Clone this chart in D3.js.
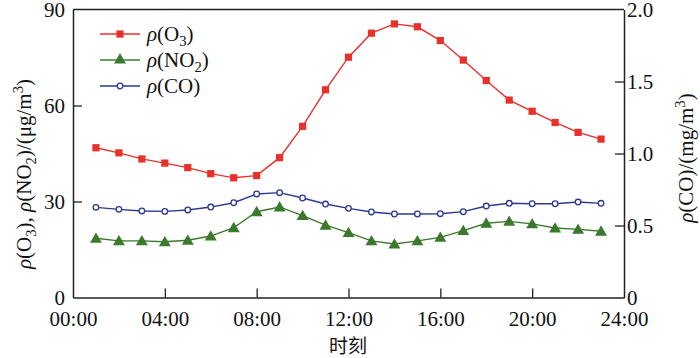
<!DOCTYPE html>
<html>
<head>
<meta charset="utf-8">
<script src="https://cdn.jsdelivr.net/npm/d3@7"></script>
</head>
<body style="margin:0; background:#fff">
<div id="chart"></div>
<script>
'use strict';

// hours of the day
var hours = [1, 2, 3, 4, 5, 6, 7, 8, 9, 10, 11, 12, 13, 14, 15, 16, 17, 18, 19, 20, 21, 22, 23];
// O3 and NO2 on left axis (ug/m3), CO on right axis (mg/m3)
var o3  = [46.8, 45.2, 43.3, 42.0, 40.6, 38.7, 37.4, 38.1, 43.7, 53.5, 64.9, 75.1, 82.6, 85.5, 84.6, 80.3, 74.2, 67.8, 61.7, 58.2, 54.7, 51.6, 49.5];
var no2 = [18.5, 17.7, 17.7, 17.4, 17.9, 19.2, 21.8, 26.8, 28.3, 25.6, 22.6, 20.3, 17.7, 16.7, 17.7, 18.8, 20.9, 23.2, 23.8, 23.0, 21.7, 21.3, 20.7];
var co  = [0.626, 0.612, 0.601, 0.598, 0.608, 0.628, 0.658, 0.719, 0.728, 0.691, 0.649, 0.619, 0.594, 0.580, 0.580, 0.582, 0.596, 0.635, 0.654, 0.651, 0.651, 0.663, 0.654];

var xTicks = [0, 4, 8, 12, 16, 20, 24];
var xTickLabels = ['00:00', '04:00', '08:00', '12:00', '16:00', '20:00', '24:00'];
var leftTicks = [0, 30, 60, 90];
var rightTicks = [0, 0.5, 1.0, 1.5, 2.0];

var chart = {};
chart.width = 700;
chart.height = 358;
chart.margins = {top: 9.5, bottom: 60.5, left: 73, right: 76};
chart.pw = chart.width - chart.margins.left - chart.margins.right;
chart.ph = chart.height - chart.margins.top - chart.margins.bottom;

var serif = '"Liberation Serif"';
var fs = 21;
var red = '#e8312b', green = '#3b7a2c', blue = '#2d3891';

var svg = d3.select('#chart').append('svg')
    .attr('width', chart.width)
    .attr('height', chart.height)
    .style('display', 'block');

var g = svg.append('g')
    .attr('transform', 'translate(' + chart.margins.left + ',' + chart.margins.top + ')');

var xScale = d3.scaleLinear().domain([0, 24]).range([0, chart.pw]);
var yLeft = d3.scaleLinear().domain([0, 90]).range([chart.ph, 0]);
var yRight = d3.scaleLinear().domain([0, 2]).range([chart.ph, 0]);

// axes, ticks pointing inward
var xAxis = d3.axisBottom(xScale).tickValues(xTicks)
    .tickFormat(function(d, i){ return xTickLabels[i]; })
    .tickSizeInner(-9).tickSizeOuter(0).tickPadding(14);
var lAxis = d3.axisLeft(yLeft).tickValues(leftTicks)
    .tickFormat(d3.format('d'))
    .tickSizeInner(-9).tickSizeOuter(0).tickPadding(8);
var rAxis = d3.axisRight(yRight).tickValues(rightTicks)
    .tickFormat(function(d){ return d === 0 ? '0' : d3.format('.1f')(d); })
    .tickSizeInner(-9).tickSizeOuter(0).tickPadding(3);

var gx = g.append('g').attr('transform', 'translate(0,' + chart.ph + ')').call(xAxis);
var gl = g.append('g').call(lAxis);
var gr = g.append('g').attr('transform', 'translate(' + chart.pw + ',0)').call(rAxis);

[gx, gl, gr].forEach(function(a){
    a.attr('font-family', serif);
    a.selectAll('.domain').attr('stroke', '#222').attr('stroke-width', 1.5);
    a.selectAll('.tick line').attr('stroke', '#222').attr('stroke-width', 1.3);
    a.selectAll('.tick text')
        .attr('font-size', fs)
        .attr('fill', '#111');
});
// no tick marks at the corners
gl.selectAll('.tick line').filter(function(d){ return d === 0 || d === 90; }).remove();
gr.selectAll('.tick line').filter(function(d){ return d === 0 || d === 2; }).remove();
gx.selectAll('.tick line').filter(function(d){ return d === 0 || d === 24; }).remove();

// top border
g.append('line')
    .attr('x1', 0).attr('x2', chart.pw)
    .attr('y1', 0).attr('y2', 0)
    .attr('stroke', '#222').attr('stroke-width', 1.5);

// lines
function drawLine(values, scale, color) {
    var line = d3.line()
        .x(function(d, i){ return xScale(hours[i]); })
        .y(function(d){ return scale(d); });
    g.append('path')
        .datum(values)
        .attr('d', line)
        .attr('fill', 'none')
        .attr('stroke', color)
        .attr('stroke-width', 1.4);
}
drawLine(o3, yLeft, red);
drawLine(no2, yLeft, green);
drawLine(co, yRight, blue);

var sq = d3.symbol().type(d3.symbolSquare).size(52);
var tri = d3.symbol().type(d3.symbolTriangle).size(62);

g.selectAll('.o3').data(o3).enter().append('path')
    .attr('class', 'o3')
    .attr('d', sq)
    .attr('transform', function(d, i){ return 'translate(' + xScale(hours[i]) + ',' + yLeft(d) + ')'; })
    .attr('fill', red);

g.selectAll('.no2').data(no2).enter().append('path')
    .attr('class', 'no2')
    .attr('d', tri)
    .attr('transform', function(d, i){ return 'translate(' + xScale(hours[i]) + ',' + (yLeft(d) + 1) + ')'; })
    .attr('fill', green);

g.selectAll('.co').data(co).enter().append('circle')
    .attr('class', 'co')
    .attr('cx', function(d, i){ return xScale(hours[i]); })
    .attr('cy', function(d){ return yRight(d); })
    .attr('r', 2.8)
    .attr('fill', '#fff')
    .attr('stroke', blue)
    .attr('stroke-width', 1.3);

// helper: text with sub/superscripts from parts [text, kind]
function richText(sel, parts) {
    parts.forEach(function(p){
        var t = sel.append('tspan').text(p[0]);
        if (p[1] === 'i') t.attr('font-style', 'italic');
        if (p[1] === 'sub') t.attr('font-size', '0.7em').attr('dy', 5);
        if (p[1] === 'sup') t.attr('font-size', '0.7em').attr('dy', -8);
        if (p[1] === 'back') t.attr('dy', p[2]);
    });
}

// legend
var legend = svg.append('g').attr('transform', 'translate(100,34)');
var legendItems = [
    {color: red, kind: 'sq', parts: [['ρ', 'i'], ['(O', ''], ['3', 'sub'], [')', 'back', -5]]},
    {color: green, kind: 'tri', parts: [['ρ', 'i'], ['(NO', ''], ['2', 'sub'], [')', 'back', -5]]},
    {color: blue, kind: 'circ', parts: [['ρ', 'i'], ['(CO)', '']]}
];
legendItems.forEach(function(item, i){
    var row = legend.append('g').attr('transform', 'translate(0,' + (i * 26) + ')');
    row.append('line').attr('x1', 0).attr('x2', 40).attr('y1', 0).attr('y2', 0)
        .attr('stroke', item.color).attr('stroke-width', 1.4);
    if (item.kind === 'sq') row.append('path').attr('d', sq).attr('transform', 'translate(20,0)').attr('fill', item.color);
    if (item.kind === 'tri') row.append('path').attr('d', tri).attr('transform', 'translate(20,0)').attr('fill', item.color);
    if (item.kind === 'circ') row.append('circle').attr('cx', 20).attr('cy', 0).attr('r', 2.8)
        .attr('fill', '#fff').attr('stroke', item.color).attr('stroke-width', 1.3);
    var t = row.append('text').attr('x', 47).attr('y', 7).attr('font-size', fs);
    richText(t, item.parts);
});

// axis titles
var lt = svg.append('text')
    .attr('transform', 'translate(31,174) rotate(-90)')
    .attr('text-anchor', 'middle')
    .attr('font-size', fs);
richText(lt, [['ρ', 'i'], ['(O', ''], ['3', 'sub'], ['), ', 'back', -5], ['ρ', 'i'], ['(NO', ''], ['2', 'sub'],
    [')/(μg/m', 'back', -5], ['3', 'sup'], [')', 'back', 8]]);

var rt = svg.append('text')
    .attr('transform', 'translate(693,158) rotate(-90)')
    .attr('text-anchor', 'middle')
    .attr('font-size', fs);
richText(rt, [['ρ', 'i'], ['(CO)/(mg/m', ''], ['3', 'sup'], [')', 'back', 8]]);

// serif for everything, then the Chinese axis title
svg.selectAll('text').attr('font-family', serif).style('font-family', serif).style('fill', '#111');

svg.append('text')
    .attr('x', 348).attr('y', 353)
    .attr('text-anchor', 'middle')
    .attr('font-size', 19)
    .style('font-family', '"Noto Sans CJK SC"')
    .style('fill', '#111')
    .text('时刻');
</script>
</body>
</html>
